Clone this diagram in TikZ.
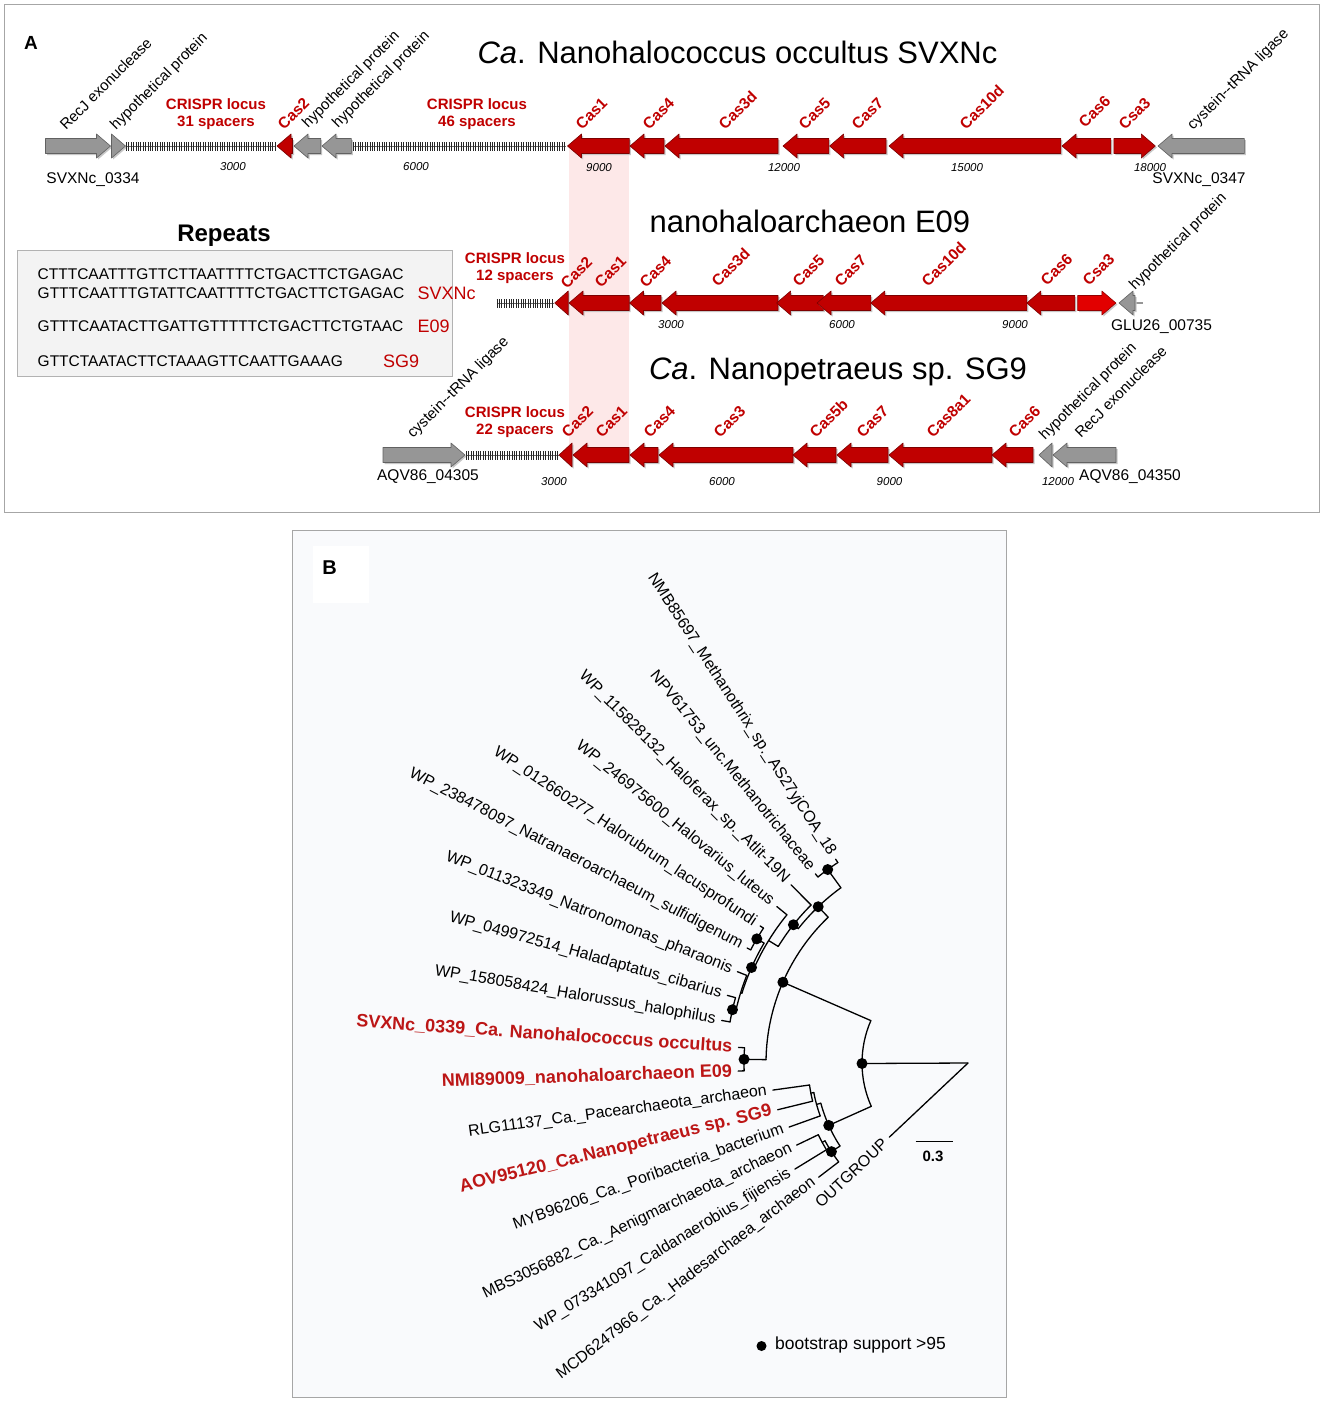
\documentclass[tikz,border=0pt]{standalone}
\usepackage{fontspec}
\setmainfont{Liberation Sans}
\usetikzlibrary{calc}
\definecolor{cred}{RGB}{192,0,0}
\definecolor{cbright}{RGB}{226,0,0}
\definecolor{cgray}{RGB}{150,150,150}
\definecolor{tred}{RGB}{188,22,22}
\definecolor{pinkband}{RGB}{253,232,232}
\definecolor{panelbg}{RGB}{249,250,252}
\definecolor{boxbg}{RGB}{243,243,243}
\newcommand{\fs}[1]{\fontsize{#1}{#1}\selectfont}
% left-pointing gene: tip x, end x, y, colour
\newcommand{\geneL}[4]{%
  \pgfmathsetmacro{\hb}{min(#1+14,#2)}%
  \path[fill=black!22] (#1+1.5,-#3-1.5) -- (\hb+1.5,-#3+10.5) -- (\hb+1.5,-#3+6) -- (#2+1.5,-#3+6) -- (#2+1.5,-#3-9) -- (\hb+1.5,-#3-9) -- (\hb+1.5,-#3-13.5) -- cycle;
  \path[fill=#4, draw=#4!65!black, line width=0.6pt, line join=round]
    (#1,-#3) -- (\hb,-#3+12) -- (\hb,-#3+7.5) -- (#2,-#3+7.5) -- (#2,-#3-7.5) -- (\hb,-#3-7.5) -- (\hb,-#3-12) -- cycle;}
% right-pointing gene: start x, tip x, y, colour
\newcommand{\geneR}[4]{%
  \pgfmathsetmacro{\hb}{max(#2-14,#1)}%
  \path[fill=black!22] (#2+1.5,-#3-1.5) -- (\hb+1.5,-#3+10.5) -- (\hb+1.5,-#3+6) -- (#1+1.5,-#3+6) -- (#1+1.5,-#3-9) -- (\hb+1.5,-#3-9) -- (\hb+1.5,-#3-13.5) -- cycle;
  \path[fill=#4, draw=#4!65!black, line width=0.6pt, line join=round]
    (#2,-#3) -- (\hb,-#3+12) -- (\hb,-#3+7.5) -- (#1,-#3+7.5) -- (#1,-#3-7.5) -- (\hb,-#3-7.5) -- (\hb,-#3-12) -- cycle;}
\newcommand{\crispr}[3]{%
  \draw[black!60, line width=0.6pt] (#1,-#3) -- (#2,-#3);
  \draw[black!85, line width=9pt, dash pattern=on 0.8pt off 1.6pt] (#1,-#3) -- (#2,-#3);}
% tree helpers (angles in degrees, radii in pt from centre C)
\newcommand{\clade}[3]{\draw[treeline] ($(C)+(#1:#3pt)$) arc[start angle=#1, end angle=#2, radius=#3pt];}
\newcommand{\branch}[3]{\draw[treeline] ($(C)+(#1:#2pt)$) -- ($(C)+(#1:#3pt)$);}
\newcommand{\tcoord}[3]{\coordinate (#1) at ($(C)+(#2:#3pt)$);}
\newcommand{\leaflab}[5]{\pgfmathsetmacro{\rr}{#3+6}%
  \node[#4, rotate=#2-180, anchor=east, inner sep=0pt] (#1) at ($(C)+(#2:\rr pt)$) {#5};}
\begin{document}
\begin{tikzpicture}[x=1pt,y=1pt,
  treeline/.style={line width=1.3pt, black, line cap=round, line join=round},
  glab/.style={rotate=45, anchor=base west, inner sep=0pt, font=\fs{15}},
  clab/.style={rotate=45, anchor=base west, inner sep=0pt, font=\bfseries\fs{15.5}, text=cred},
  crlab/.style={font=\bfseries\fontsize{15}{17.5}\selectfont, text=cred, align=center, inner sep=0pt},
  scl/.style={font=\itshape\fs{11.5}, inner sep=0pt},
  tag/.style={font=\fs{15.5}, inner sep=0pt},
  ttl/.style={font=\fs{31}, anchor=base, inner sep=0pt},
  seq/.style={font=\fs{15.5}, anchor=west, inner sep=0pt},
  seqred/.style={font=\fs{18}, anchor=west, inner sep=0pt, text=cred},
  bl/.style={font=\fs{16}},
  rl/.style={font=\bfseries\fs{18}, text=tred},
  dot/.style={fill=black}
]
\useasboundingbox (0,0) rectangle (1325,-1403);
\fill[white] (0,0) rectangle (1325,-1403);

% ================= PANEL A =================
\draw[black!35, line width=1pt] (4.5,-4.5) rectangle (1319.5,-512);
\node[font=\bfseries\fs{19}, inner sep=0pt] (labA) at (31,-43) {A};

% pink band
\fill[pinkband] (569,-146) rectangle (629,-455);

% titles
\node[ttl] (title1) at (737.5,-63) {\textit{Ca}. Nanohalococcus occultus SVXNc};
\node[ttl] (title2) at (810,-232) {nanohaloarchaeon E09};
\node[ttl] (title3) at (838,-379) {\textit{Ca}. Nanopetraeus sp. SG9};

% ---- row 1 (SVXNc), y = 146
\geneR{45.5}{110.5}{146}{cgray}
\geneR{111.5}{125.5}{146}{cgray}
\crispr{126}{276}{146}
\geneL{277}{292.5}{146}{cred}
\geneL{294}{320.7}{146}{cgray}
\geneL{322}{351.4}{146}{cgray}
\crispr{352.7}{566}{146}
\geneL{567.5}{629.4}{146}{cred}
\geneL{630}{664}{146}{cred}
\geneL{665}{778}{146}{cred}
\geneL{783}{828.8}{146}{cred}
\geneL{829.6}{886}{146}{cred}
\geneL{889}{1060.8}{146}{cred}
\geneL{1062}{1110.8}{146}{cred}
\geneR{1113.8}{1155.3}{146}{cred}
\geneL{1158}{1244.4}{146}{cgray}

\node[glab] (r1a) at (66,-131) {RecJ exonuclease};
\node[glab] (r1b) at (116,-131) {hypothetical protein};
\node[clab] (r1c) at (284,-131) {Cas2};
\node[glab] (r1d) at (308,-129) {hypothetical protein};
\node[glab] (r1e) at (338,-129) {hypothetical protein};
\node[clab] (r1f) at (582,-131) {Cas1};
\node[clab] (r1g) at (649,-131) {Cas4};
\node[clab] (r1h) at (725,-131) {Cas3d};
\node[clab] (r1i) at (805,-131) {Cas5};
\node[clab] (r1j) at (858,-131) {Cas7};
\node[clab] (r1k) at (966,-131) {Cas10d};
\node[clab] (r1l) at (1085,-129) {Cas6};
\node[clab] (r1m) at (1125,-131) {Csa3};
\node[glab] (r1n) at (1193,-131) {cystein-{}-tRNA ligase};
\node[crlab] (cr1) at (216,-114) {CRISPR locus\\31 spacers};
\node[crlab] (cr2) at (477,-114) {CRISPR locus\\46 spacers};
\node[scl] (s11) at (233,-167) {3000};
\node[scl] (s12) at (416,-167) {6000};
\node[scl] (s13) at (599,-168) {9000};
\node[scl] (s14) at (784,-168) {12000};
\node[scl] (s15) at (967,-168) {15000};
\node[scl] (s16) at (1150,-168) {18000};
\node[tag] (tg1) at (93,-180) {SVXNc\_0334};
\node[tag] (tg2) at (1199,-180) {SVXNc\_0347};

% ---- row 2 (E09), y = 303
\crispr{496.6}{553.5}{303}
\geneL{554.7}{568.2}{303}{cred}
\geneL{569}{629.2}{303}{cred}
\geneL{629.5}{661}{303}{cred}
\geneL{662}{778}{303}{cred}
\geneL{776.6}{823.3}{303}{cred}
\geneL{817}{870.8}{303}{cred}
\geneL{870.8}{1026.8}{303}{cred}
\geneL{1026.8}{1074.8}{303}{cred}
\geneR{1077.7}{1115.9}{303}{cbright}
\draw[cgray, line width=2pt] (1130,-303) -- (1143,-303);
\geneL{1119}{1135}{303}{cgray}

\node[crlab] (cr3) at (515,-268) {CRISPR locus\\12 spacers};
\node[clab] (r2a) at (567,-290) {Cas2};
\node[clab] (r2b) at (601,-289) {Cas1};
\node[clab] (r2c) at (646,-289) {Cas4};
\node[clab] (r2d) at (718,-288) {Cas3d};
\node[clab] (r2e) at (799,-288) {Cas5};
\node[clab] (r2f) at (841,-288) {Cas7};
\node[clab] (r2g) at (928,-288) {Cas10d};
\node[clab] (r2h) at (1047,-287) {Cas6};
\node[clab] (r2i) at (1089,-287) {Csa3};
\node[glab] (r2j) at (1135,-291) {hypothetical protein};
\node[scl] (s21) at (671,-325) {3000};
\node[scl] (s22) at (842,-325) {6000};
\node[scl] (s23) at (1015,-325) {9000};
\node[tag] (tg3) at (1161.5,-327) {GLU26\_00735};

% ---- row 3 (SG9), y = 455
\geneR{383}{465}{455}{cgray}
\crispr{466}{558.5}{455}
\geneL{559}{572}{455}{cred}
\geneL{573}{629}{455}{cred}
\geneL{630}{658}{455}{cred}
\geneL{659}{793}{455}{cred}
\geneL{793}{836}{455}{cred}
\geneL{837}{888}{455}{cred}
\geneL{889}{992}{455}{cred}
\geneL{992}{1033}{455}{cred}
\geneL{1039}{1052}{455}{cgray}
\geneL{1053}{1116}{455}{cgray}

\node[glab] (r3a) at (413,-439) {cystein-{}-tRNA ligase};
\node[crlab] (cr4) at (515,-422) {CRISPR locus\\22 spacers};
\node[clab] (r3b) at (568,-439) {Cas2};
\node[clab] (r3c) at (602,-439) {Cas1};
\node[clab] (r3d) at (650,-439) {Cas4};
\node[clab] (r3e) at (720,-439) {Cas3};
\node[clab] (r3f) at (816,-439) {Cas5b};
\node[clab] (r3g) at (863,-439) {Cas7};
\node[clab] (r3h) at (933,-439) {Cas8a1};
\node[clab] (r3i) at (1015,-439) {Cas6};
\node[glab] (r3j) at (1045,-441) {hypothetical protein};
\node[glab] (r3k) at (1081,-439) {RecJ exonuclease};
\node[scl] (s31) at (554,-482) {3000};
\node[scl] (s32) at (722,-482) {6000};
\node[scl] (s33) at (889.5,-482) {9000};
\node[scl] (s34) at (1058,-482) {12000};
\node[tag] (tg4) at (428,-477) {AQV86\_04305};
\node[tag] (tg5) at (1130,-477) {AQV86\_04350};

% ---- repeats box
\node[font=\bfseries\fs{24}, inner sep=0pt] (rep) at (224,-236) {Repeats};
\draw[black!30, fill=boxbg, line width=0.8pt] (17.7,-250) rectangle (452.4,-376);
\node[seq] (q1) at (37.5,-274) {CTTTCAATTTGTTCTTAATTTTCTGACTTCTGAGAC};
\node[seq] (q2) at (37.5,-293) {GTTTCAATTTGTATTCAATTTTCTGACTTCTGAGAC};
\node[seq] (q3) at (37.5,-326) {GTTTCAATACTTGATTGTTTTTCTGACTTCTGTAAC};
\node[seq] (q4) at (37.5,-361) {GTTCTAATACTTCTAAAGTTCAATTGAAAG};
\node[seqred] (q2r) at (417.5,-293) {SVXNc};
\node[seqred] (q3r) at (417.5,-326) {E09};
\node[seqred] (q4r) at (383,-361) {SG9};

% ================= PANEL B =================
\draw[black!35, fill=panelbg, line width=1pt] (292,-530) rectangle (1006.5,-1397.5);
\fill[white] (313,-546) rectangle (368.5,-603);
\node[font=\bfseries\fs{20}, inner sep=0pt] (labB) at (329.5,-567.5) {B};

\coordinate (C) at (968,-1063);

% branches and clades
\branch{180.27}{0}{106}
\branch{223.3}{0}{108}
\clade{156.42}{204.13}{106}
\branch{156.42}{106}{202}
\branch{204.13}{106}{152.6}
\clade{133.79}{179.05}{202}
\branch{133.79}{202}{216.5}
\branch{179.05}{202}{224}
\clade{125.95}{141.62}{216.5}
\branch{125.95}{216.5}{239}
\branch{141.62}{216.5}{222.7}
\clade{123}{128.9}{239}
\branch{123}{239}{243}
\branch{128.9}{239}{243}
\clade{134.8}{148.44}{222.7}
\branch{134.8}{222.7}{251}
\branch{148.44}{222.7}{234}
\clade{140.7}{156.19}{234}
\branch{140.7}{234}{247}
\branch{156.19}{234}{236.6}
\clade{149.55}{162.83}{236.6}
\branch{149.55}{236.6}{245}
\branch{162.83}{236.6}{238}
\clade{146.6}{152.5}{245}
\branch{146.6}{245}{249}
\branch{152.5}{245}{249}
\clade{158.4}{167.25}{238}
\branch{158.4}{238}{248}
\branch{167.25}{238}{241.5}
\clade{164.3}{170.2}{241.5}
\branch{164.3}{241.5}{250}
\branch{170.2}{241.5}{250}
\clade{176.1}{182}{224}
\branch{176.1}{224}{230}
\branch{182}{224}{230}
\clade{195.28}{212.98}{152.6}
\branch{195.28}{152.6}{157}
\branch{212.98}{152.6}{162.8}
\clade{190.85}{199.7}{157}
\branch{190.85}{157}{160}
\branch{199.7}{157}{190}
\clade{187.9}{193.8}{160}
\branch{187.9}{160}{197}
\branch{193.8}{160}{196}
\clade{208.55}{217.4}{162.8}
\branch{208.55}{162.8}{166}
\branch{217.4}{162.8}{188}
\clade{205.6}{211.5}{166}
\branch{205.6}{166}{190}
\branch{211.5}{166}{203}

% bootstrap dots
\tcoord{nA}{180.27}{106}
\tcoord{nB}{156.42}{202}
\tcoord{nD}{204.13}{152.6}
\tcoord{nE}{133.79}{216.5}
\tcoord{nF}{179.05}{224}
\tcoord{nG}{125.95}{239}
\tcoord{nH}{141.62}{222.7}
\tcoord{nJ}{149.55}{245}
\tcoord{nK}{156.19}{236.6}
\tcoord{nL}{167.25}{241.5}
\tcoord{nO}{212.98}{162.8}
\foreach \n in {nA,nB,nD,nE,nF,nG,nH,nJ,nK,nL,nO} \fill[dot] (\n) circle[radius=5.5pt];

% leaf labels
\leaflab{t1}{123.0}{243}{bl}{NMB85697\_Methanothrix\_sp.\_AS27yjCOA\_18}
\leaflab{t2}{128.9}{243}{bl}{NPV61753\_unc.Methanotrichaceae}
\leaflab{t3}{134.8}{251}{bl}{WP\_115828132\_Haloferax\_sp.\_Atlit-19N}
\leaflab{t4}{140.7}{247}{bl}{WP\_246975600\_Halovarius\_luteus}
\leaflab{t5}{146.6}{249}{bl}{WP\_012660277\_Halorubrum\_lacusprofundi}
\leaflab{t6}{152.5}{249}{bl}{WP\_238478097\_Natranaeroarchaeum\_sulfidigenum}
\leaflab{t7}{158.4}{248}{bl}{WP\_011323349\_Natronomonas\_pharaonis}
\leaflab{t8}{164.3}{250}{bl}{WP\_049972514\_Haladaptatus\_cibarius}
\leaflab{t9}{170.2}{250}{bl}{WP\_158058424\_Halorussus\_halophilus}
\leaflab{t10}{176.1}{230}{rl}{SVXNc\_0339\_Ca. Nanohalococcus occultus}
\leaflab{t11}{182.0}{230}{rl}{NMI89009\_nanohaloarchaeon E09}
\leaflab{t12}{187.9}{197}{bl}{RLG11137\_Ca.\_Pacearchaeota\_archaeon}
\leaflab{t13}{193.8}{196}{rl}{AOV95120\_Ca.Nanopetraeus sp. SG9}
\leaflab{t14}{199.7}{190}{bl}{MYB96206\_Ca.\_Poribacteria\_bacterium}
\leaflab{t15}{205.6}{190}{bl}{MBS3056882\_Ca.\_Aenigmarchaeota\_archaeon}
\leaflab{t16}{211.5}{203}{bl}{WP\_073341097\_Caldanaerobius\_fijiensis}
\leaflab{t17}{217.4}{188}{bl}{MCD6247966\_Ca.\_Hadesarchaea\_archaeon}
\leaflab{tog}{223.3}{108}{bl}{OUTGROUP}

% scale bar
\coordinate (sb1) at (915.5,-1141.5);
\coordinate (sb2) at (953,-1141.5);
\draw[line width=1.5pt] (sb1) -- (sb2);
\node[font=\bfseries\fs{15}, inner sep=0pt] (sbl) at (933,-1156) {0.3};

% legend
\coordinate (lg) at (761.5,-1346);
\fill[dot] (lg) circle[radius=5pt];
\node[font=\fs{17.5}, anchor=west, inner sep=0pt] (lgt) at (775,-1345) {bootstrap support >95};
\end{tikzpicture}
\end{document}
